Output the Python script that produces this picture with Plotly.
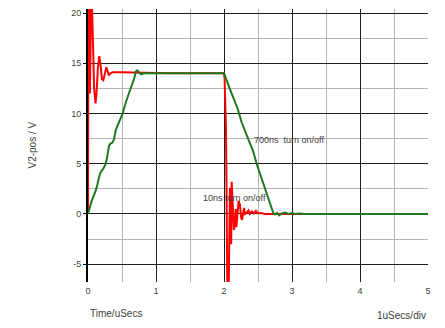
import plotly.graph_objects as go

# ---- data (time in uSecs, voltage in V) ----
red_t = [0, 0.005, 0.015, 0.028, 0.045, 0.06, 0.075, 0.09, 0.11, 0.125, 0.145, 0.165,
         0.185, 0.205, 0.225, 0.245, 0.27, 0.29, 0.305, 0.33, 0.36, 0.5, 0.7, 1.2, 1.6,
         2.0, 2.008, 2.012, 2.018, 2.022, 2.028, 2.033, 2.04, 2.05, 2.068, 2.08, 2.088,
         2.096, 2.106, 2.113, 2.125, 2.145, 2.16, 2.172, 2.182, 2.2, 2.215, 2.235, 2.25,
         2.265, 2.28, 2.295, 2.31, 2.33, 2.36, 2.38, 2.41, 2.44, 2.47, 2.5, 2.55, 2.6,
         3.0, 4.0, 5.0]
red_v = [0, 20.6, 20.3, 12.0, 20.6, 20.5, 16.0, 12.5, 11.0, 12.0, 14.5, 15.7,
         14.8, 13.4, 13.3, 14.0, 14.6, 14.2, 13.8, 14.0, 14.1, 14.1, 14.05, 14.0, 14.0,
         14.0, 13.6, 12.6, 12.4, 9.3, 8.8, 6.0, 1.0, -8.0, -8.0, -2.0, 2.6,
         -2.5, -3.0, 3.2, 1.5, -1.6, -1.0, 0.5, -1.3, 0.3, 1.3, 0.9, -0.3,
         -0.6, 0.2, 0.6, 0.0, 0.1, 0.35, 0.0, 0.25, 0.05, 0.3, 0.05, 0.1, 0.0,
         0.0, 0.0, 0.0]

green_t = [0, 0.02, 0.054, 0.09, 0.127, 0.15, 0.176, 0.2, 0.225, 0.255, 0.275, 0.295,
           0.31, 0.33, 0.36, 0.385, 0.41, 0.46, 0.51, 0.56, 0.6, 0.64, 0.68, 0.705,
           0.725, 0.75, 0.78, 0.82, 1.5, 2.0, 2.1, 2.2, 2.26, 2.3, 2.38, 2.43, 2.48,
           2.53, 2.56, 2.6, 2.65, 2.7, 2.725, 2.75, 2.78, 2.81, 2.85, 2.9, 2.95, 3.0,
           3.05, 3.1, 3.2, 5.0]
green_v = [0, 0.5, 1.3, 1.9, 2.6, 3.3, 4.0, 4.3, 4.5, 4.9, 5.4, 6.2,
           6.8, 7.0, 7.1, 7.5, 8.4, 9.2, 10.0, 11.2, 11.9, 12.7, 13.5, 14.2,
           14.3, 14.1, 13.9, 14.0, 14.0, 14.0, 12.2, 10.5, 9.1, 8.4, 7.2, 6.2, 5.0,
           4.0, 3.3, 2.4, 1.4, 0.4, 0.1, -0.05, 0.1, -0.15, 0.05, 0.15, 0.0, 0.1,
           0.0, 0.05, 0.0, 0.0]

x_ticks = [0, 1, 2, 3, 4, 5]
y_ticks = [-5, 0, 5, 10, 15, 20]

FONT = "Arial, Liberation Sans, sans-serif"
TXT = "#404040"

fig = go.Figure()
fig.add_trace(go.Scatter(x=red_t, y=red_v, mode="lines",
                         line=dict(color="#ff0000", width=2), showlegend=False))
fig.add_trace(go.Scatter(x=green_t, y=green_v, mode="lines",
                         line=dict(color="#1f7a1f", width=2), showlegend=False))

fig.update_layout(
    width=445, height=328,
    margin=dict(l=88, r=17, t=9, b=46),
    paper_bgcolor="white", plot_bgcolor="white",
    font=dict(family=FONT, size=9, color=TXT),
    xaxis=dict(range=[0, 5], tickvals=x_ticks, ticktext=[str(v) for v in x_ticks],
               showgrid=True, gridcolor="#1e1e1e", gridwidth=1,
               minor=dict(dtick=0.5, tick0=0, showgrid=True, gridcolor="#b4b4b4", gridwidth=1),
               zeroline=False, showline=False, ticks="", ticklabelstandoff=2,
               tickfont=dict(size=9, color=TXT)),
    yaxis=dict(range=[-6.77, 20.4], tickvals=y_ticks, ticktext=[str(v) for v in y_ticks],
               showgrid=True, gridcolor="#1e1e1e", gridwidth=1,
               minor=dict(dtick=2.5, tick0=0, showgrid=True, gridcolor="#b4b4b4", gridwidth=1),
               zeroline=False, showline=True, linecolor="black", linewidth=2,
               ticks="outside", ticklen=3, tickcolor="black", tickwidth=1,
               tickfont=dict(size=9, color=TXT)),
    annotations=[
        dict(text="V2-pos / V", xref="paper", yref="paper", x=-0.1647, y=0.5,
             textangle=-90, showarrow=False, font=dict(size=10, color=TXT),
             xanchor="center", yanchor="middle"),
        dict(text="Time/uSecs", xref="paper", yref="paper", x=0, y=-0.117,
             showarrow=False, font=dict(size=10, color=TXT), xanchor="left", yanchor="middle"),
        dict(text="1uSecs/div", xref="paper", yref="paper", x=1, y=-0.121,
             showarrow=False, font=dict(size=10, color=TXT), xanchor="right", yanchor="middle"),
        dict(text="700ns  turn on/off", x=2.407, y=7.36, xref="x", yref="y",
             showarrow=False, font=dict(size=9, color=TXT), xanchor="left", yanchor="middle"),
        dict(text="10ns turn on/off", x=1.657, y=1.6, xref="x", yref="y",
             showarrow=False, font=dict(size=9, color=TXT), xanchor="left", yanchor="middle"),
    ],
)

fig.write_html("out.html")
